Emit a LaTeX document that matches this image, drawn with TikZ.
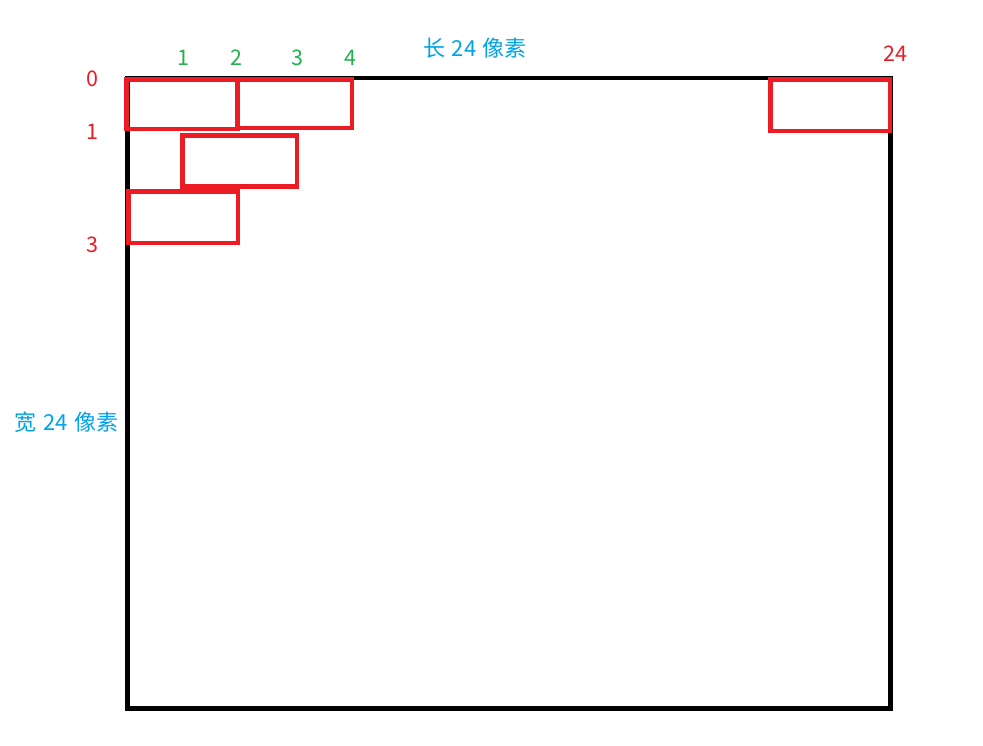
\documentclass[tikz,border=0pt]{standalone}
\usepackage{fontspec}
\setmainfont{Noto Sans CJK SC}
\definecolor{pred}{HTML}{ED1C24}
\definecolor{pgreen}{HTML}{22B14C}
\definecolor{pblue}{HTML}{00A2E8}
\newcommand{\gapsp}{\hspace{0.3em}}
\tikzset{
  frame/.style={draw=black, line width=4.5pt},
  cell/.style={draw=pred, line width=4.5pt, rectangle, inner sep=0pt, outer sep=0pt},
  rlab/.style={text=pred, font=\fontsize{21.5}{25}\selectfont, inner sep=0pt},
  glab/.style={text=pgreen, font=\fontsize{21.5}{25}\selectfont, inner sep=0pt},
  blab/.style={text=pblue, font=\fontsize{22}{26}\selectfont, inner sep=0pt},
}
\begin{document}
\begin{tikzpicture}[x=1pt, y=-1pt]
\useasboundingbox (0,0) rectangle (983,745);
\draw[frame] (127.5,78) rectangle (890.5,708.5);
\node[cell, minimum width=111pt, minimum height=49.3pt] (r1) at (182,104.35) {};
\node[cell, minimum width=114.5pt, minimum height=48.3pt] (r2) at (294.75,103.85) {};
\node[cell, minimum width=114.5pt, minimum height=51pt] (r3) at (239.75,161.2) {};
\node[cell, minimum width=109.7pt, minimum height=51.7pt] (r4) at (183.15,217.15) {};
\node[cell, minimum width=119.5pt, minimum height=51.1pt] (r5) at (830.25,105.25) {};
\node[rlab] (y0) at (92,79) {0};
\node[rlab] (y1) at (92,132) {1};
\node[rlab] (y3) at (92,245) {3};
\node[glab] (x1) at (183,58) {1};
\node[glab] (x2) at (236,58) {2};
\node[glab] (x3) at (297,58) {3};
\node[glab] (x4) at (350,58) {4};
\node[rlab] (x24) at (895,54) {24};
\node[blab] (len) at (475,48) {长\gapsp 24\gapsp 像素};
\node[blab] (wid) at (66.5,422) {宽\gapsp 24\gapsp 像素};
\end{tikzpicture}
\end{document}
